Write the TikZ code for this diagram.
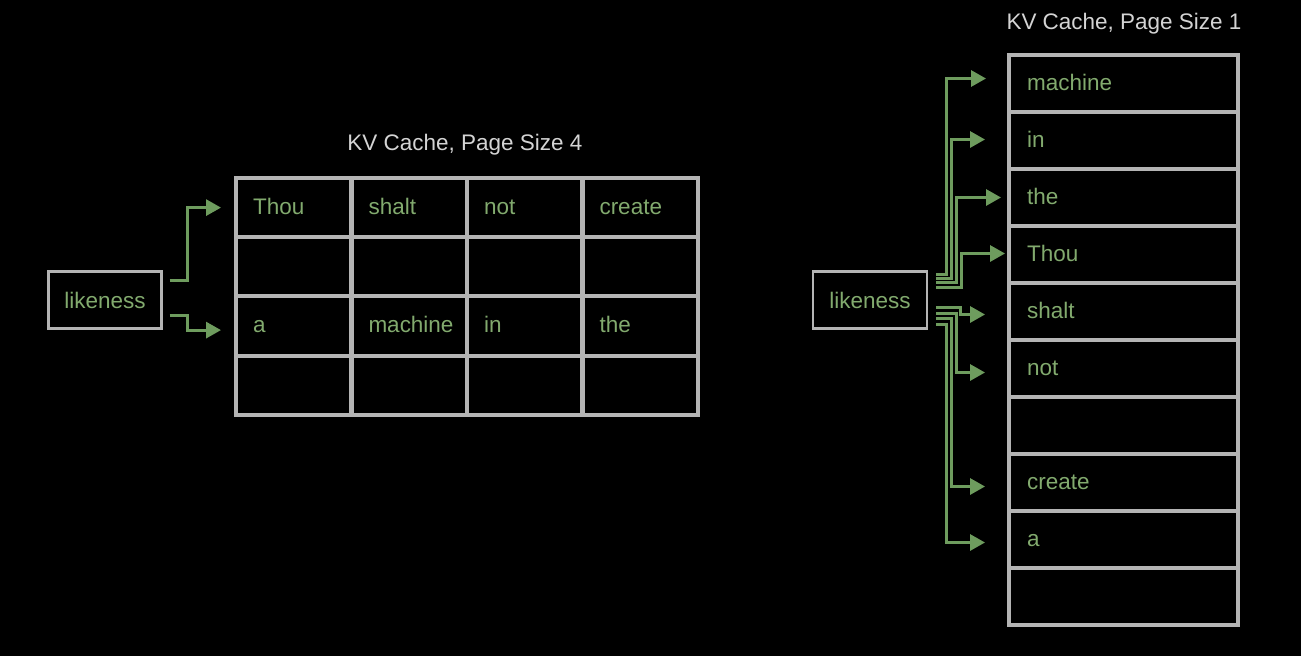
\documentclass[tikz,border=0pt]{standalone}
\usepackage{fontspec}
\setmainfont{Liberation Sans}
\usetikzlibrary{arrows.meta, calc, positioning}
\definecolor{kvbg}{HTML}{000000}
\definecolor{kvgrid}{HTML}{B4B4B4}
\definecolor{kvtext}{HTML}{82AA6E}
\definecolor{kvarrow}{HTML}{6E9C5E}
\definecolor{kvtitle}{HTML}{D4D4D4}
\tikzset{
  % cella della cache a pagine da 4
  cell/.style={draw=kvgrid, line width=0.08cm, minimum height=1.185cm,
    text width=1.63cm, inner xsep=0.34cm, align=left, text=kvtext,
    text height=0.92em, text depth=0.18em},
  % cella della cache a pagine da 1
  slot/.style={draw=kvgrid, line width=0.08cm, minimum height=1.14cm,
    text width=3.86cm, inner xsep=0.36cm, align=left, text=kvtext,
    text height=0.92em, text depth=0.18em},
  % token cercato
  token/.style={draw=kvgrid, line width=0.05cm, minimum width=2.26cm,
    minimum height=1.14cm, align=center, text=kvtext},
  % titolo della cache
  ttl/.style={text=kvtitle},
  % puntatore verso una pagina
  ptr/.style={-{Triangle[length=0.3cm, width=0.32cm]}, line width=0.06cm,
    kvarrow},
}
\begin{document}
\begin{tikzpicture}[x=0.02cm, y=-0.02cm,
  every node/.style={font=\fontsize{12.8}{15}\selectfont}]
  \fill[kvbg] (0,0) rectangle (1301,656);
  \useasboundingbox (0,0) rectangle (1301,656);
  % cache, page size 4
  \node[ttl] (t1) at (465,145) {KV Cache, Page Size 4};
  \foreach \w [count=\k] in {Thou,shalt,not,create,{},{},{},{},a,machine,in,the,{},{},{},{}} {
    \pgfmathtruncatemacro\row{(\k-1)/4}
    \pgfmathtruncatemacro\col{mod(\k-1,4)}
    \node[cell] (c\row\col) at ({293.75+115.5*\col},{207.6+59.25*\row}) {\w};
  }
  \node[token] (lk1) at (105,300) {likeness};
  \draw[ptr, shorten >=0.26cm] ($(lk1.east)+(7,-20)$) -- ++(18,0) |- (c00.west);
  \draw[ptr, shorten >=0.26cm] ($(lk1.east)+(7,15)$) -- ++(18,0) |- ($(c20.west)+(0,4)$);
  % cache, page size 1
  \node[ttl] (t2) at (1124,24) {KV Cache, Page Size 1};
  \foreach \w [count=\k] in {machine,in,the,Thou,shalt,not,{},create,a,{}}
    \node[slot] (r\k) at (1123.5,{26.5+57*\k}) {\w};
  \node[token, minimum width=2.28cm] (lk2) at (870,300) {likeness};
  \draw[ptr, shorten >=0.42cm] ($(lk2.east)+(8,-26)$) -- ++(10,0) |- ($(r1.west)+(0,-5)$);
  \draw[ptr, shorten >=0.44cm] ($(lk2.east)+(8,-22)$) -- ++(15,0) |- ($(r2.west)+(0,-1)$);
  \draw[ptr, shorten >=0.12cm] ($(lk2.east)+(8,-18)$) -- ++(20,0) |- (r3.west);
  \draw[ptr, shorten >=0.04cm] ($(lk2.east)+(8,-13)$) -- ++(25,0) |- ($(r4.west)+(0,-1)$);
  \draw[ptr, shorten >=0.44cm] ($(lk2.east)+(8,7)$) -- ++(24,0) |- ($(r5.west)+(0,3)$);
  \draw[ptr, shorten >=0.44cm] ($(lk2.east)+(8,13)$) -- ++(20,0) |- ($(r6.west)+(0,4)$);
  \draw[ptr, shorten >=0.44cm] ($(lk2.east)+(8,18)$) -- ++(15,0) |- ($(r8.west)+(0,4)$);
  \draw[ptr, shorten >=0.44cm] ($(lk2.east)+(8,24)$) -- ++(10,0) |- ($(r9.west)+(0,3)$);
\end{tikzpicture}
\end{document}
